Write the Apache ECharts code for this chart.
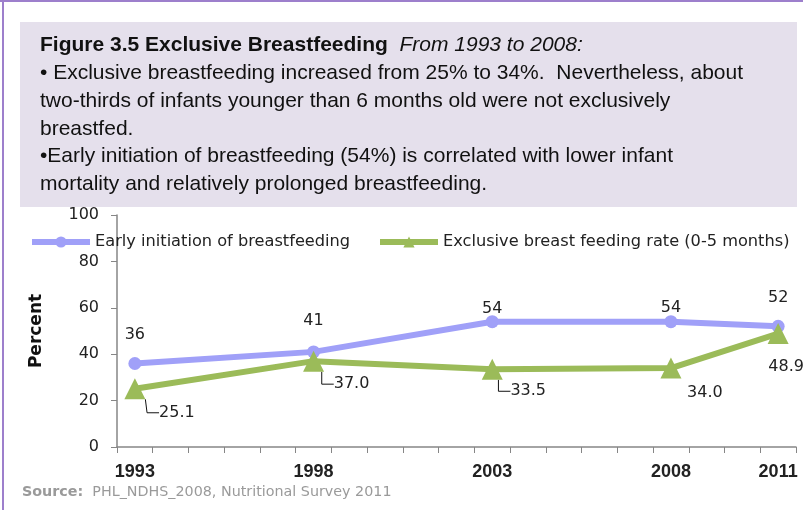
<!DOCTYPE html>
<html>
<head>
<meta charset="utf-8">
<script src="https://cdn.jsdelivr.net/npm/echarts@6/dist/echarts.min.js"></script>
<style>
  html, body { margin: 0; padding: 0; background: #fff; }
  #chart { width: 803px; height: 510px; }
</style>
</head>
<body>
<div id="chart"></div>
<script>
// every year on the axis, only the survey years carry data
const allYears = ['1993', '1994', '1995', '1996', '1997', '1998', '1999', '2000', '2001', '2002',
  '2003', '2004', '2005', '2006', '2007', '2008', '2009', '2010', '2011']
const surveyYears = ['1993', '1998', '2003', '2008', '2011']
const earlyInit = [36, 41, 54, 54, 52]
const exclusiveRate = [25.1, 37.0, 33.5, 34.0, 48.9]
const yTicks = [0, 20, 40, 60, 80, 100]
const seriesNames = ['Early initiation of breastfeeding', 'Exclusive breast feeding rate (0-5 months)']

const headerLines = [
  '{b|Figure 3.5 Exclusive Breastfeeding}  {i|From 1993 to 2008:}',
  '• Exclusive breastfeeding increased from 25% to 34%.  Nevertheless, about',
  'two-thirds of infants younger than 6 months old were not exclusively',
  'breastfed.',
  '•Early initiation of breastfeeding (54%) is correlated with lower infant',
  'mortality and relatively prolonged breastfeeding.'
]

const headFont = '"Liberation Sans", sans-serif'
const chartFont = '"DejaVu Sans", sans-serif'

// where the value labels sit relative to their point
const blueLabelShift = [-29, -31, -13, -14, -29]
const greenLabelShift = [
  { dx: 42, dy: 24, line: true },
  { dx: 38, dy: 23, line: true },
  { dx: 36, dy: 22, line: true },
  { dx: 34, dy: 25, line: false },
  { dx: 8, dy: 33, line: false }
]

function pairs (values) {
  return surveyYears.map((y, i) => [y, values[i]])
}

function legendAt (left, name) {
  return {
    left: left,
    top: 229,
    itemWidth: 58,
    itemHeight: 14,
    lineStyle: { width: 6 },
    textStyle: { fontSize: 16.2, color: '#222', fontFamily: chartFont },
    data: [name]
  }
}

const chart = echarts.init(document.getElementById('chart'))

const headerTexts = headerLines.map((line, i) => ({
  type: 'text',
  left: 40,
  top: 35 + i * 27.8,
  style: {
    text: line,
    font: '21px ' + headFont,
    fill: '#111',
    rich: {
      b: { fontWeight: 'bold', fontSize: 21, fontFamily: headFont, fill: '#111' },
      i: { fontStyle: 'italic', fontSize: 21, fontFamily: headFont, fill: '#111' }
    }
  }
}))

chart.setOption({
  animation: false,
  textStyle: { fontFamily: chartFont },
  graphic: [
    { type: 'rect', shape: { x: 0, y: 0, width: 803, height: 2 }, style: { fill: '#9d7fcc' } },
    { type: 'rect', shape: { x: 2, y: 0, width: 2, height: 510 }, style: { fill: '#9d7fcc' } },
    { type: 'rect', shape: { x: 20, y: 22, width: 777, height: 185 }, style: { fill: '#e5e0ec' } },
    ...headerTexts,
    {
      type: 'text',
      left: 22,
      top: 485,
      style: {
        text: '{s|Source:}  PHL_NDHS_2008, Nutritional Survey 2011',
        font: '14.3px ' + chartFont,
        fill: '#9a9a9a',
        rich: { s: { fontWeight: 'bold', fontSize: 14.3, fontFamily: chartFont, fill: '#9a9a9a' } }
      }
    }
  ],
  legend: [legendAt(24, seriesNames[0]), legendAt(372, seriesNames[1])],
  grid: { left: 117, right: 7, top: 215, bottom: 63, containLabel: false },
  xAxis: {
    type: 'category',
    data: allYears,
    boundaryGap: true,
    axisLine: { lineStyle: { color: '#868686', width: 1.5 } },
    axisTick: { show: true, interval: 0, length: 6, lineStyle: { color: '#868686' } },
    axisLabel: {
      interval: (idx, val) => surveyYears.includes(val),
      margin: 16,
      fontSize: 18,
      fontWeight: 'bold',
      color: '#222',
      fontFamily: headFont
    }
  },
  yAxis: {
    type: 'value',
    min: yTicks[0],
    max: yTicks[yTicks.length - 1],
    interval: 20,
    name: 'Percent',
    nameLocation: 'middle',
    nameRotate: 90,
    nameGap: 72,
    nameTextStyle: { fontSize: 17, fontWeight: 'bold', color: '#111', fontFamily: chartFont },
    axisLine: { show: true, lineStyle: { color: '#868686', width: 1.5 } },
    axisTick: { show: true, length: 6, lineStyle: { color: '#868686' } },
    splitLine: { show: false },
    axisLabel: { margin: 18, fontSize: 16, color: '#222', fontFamily: chartFont }
  },
  series: [
    {
      name: seriesNames[0],
      type: 'line',
      data: pairs(earlyInit),
      color: '#a0a0f8',
      lineStyle: { width: 6 },
      symbol: 'circle',
      symbolSize: 13,
      label: {
        show: true,
        position: 'inside',
        fontSize: 16,
        color: '#222',
        fontFamily: chartFont
      },
      labelLayout: params => ({ dy: blueLabelShift[params.dataIndex] }),
      z: 2
    },
    {
      name: seriesNames[1],
      type: 'line',
      data: pairs(exclusiveRate).map((p, i) => ({
        value: p,
        labelLine: { show: greenLabelShift[i].line }
      })),
      color: '#9bbb59',
      lineStyle: { width: 6 },
      symbol: 'triangle',
      symbolSize: 21,
      label: {
        show: true,
        position: 'inside',
        fontSize: 16,
        color: '#222',
        fontFamily: chartFont,
        formatter: p => p.value[1].toFixed(1)
      },
      labelLine: { show: true, length2: 12, lineStyle: { color: '#111', width: 1 } },
      labelLayout: params => ({
        dx: greenLabelShift[params.dataIndex].dx,
        dy: greenLabelShift[params.dataIndex].dy
      }),
      z: 3
    }
  ]
})
</script>
</body>
</html>
